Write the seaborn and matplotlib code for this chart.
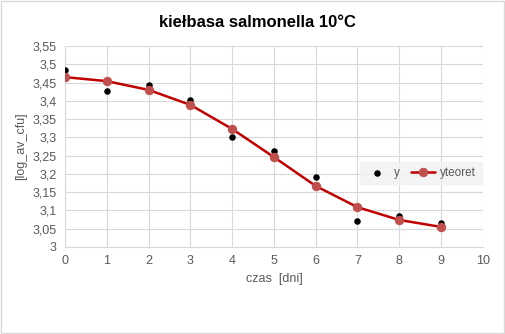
import matplotlib
matplotlib.use("Agg")
import matplotlib.pyplot as plt
import seaborn as sns
import pandas as pd
from matplotlib.ticker import FuncFormatter, MultipleLocator

days = [0, 1, 2, 3, 4, 5, 6, 7, 8, 9]
y_obs = [3.484, 3.427, 3.443, 3.402, 3.301, 3.263, 3.192, 3.071, 3.085, 3.066]
y_teor = [3.465, 3.454, 3.430, 3.389, 3.323, 3.246, 3.167, 3.109, 3.074, 3.055]

df = pd.DataFrame({"czas": days, "y": y_obs, "yteoret": y_teor})

sns.set_theme(style="white")
plt.rcParams['font.family'] = ['Liberation Sans', 'DejaVu Sans']

fig = plt.figure(figsize=(5.05, 3.34), dpi=100)
ax = fig.add_axes([0.129, 0.2605, 0.827, 0.6015])

sns.scatterplot(data=df, x="czas", y="y", ax=ax, color="black", s=22,
                edgecolor="black", linewidth=0, label="y", zorder=3)
sns.lineplot(data=df, x="czas", y="yteoret", ax=ax, color="#C00000", lw=1.8,
             marker="o", markersize=6, markerfacecolor="#C0504D",
             markeredgecolor="#C0504D", label="yteoret", zorder=4)

ax.set_xlim(0, 10)
ax.set_ylim(3, 3.55)
ax.xaxis.set_major_locator(MultipleLocator(1))
ax.yaxis.set_major_locator(MultipleLocator(0.05))
ax.yaxis.set_major_formatter(FuncFormatter(lambda v, p: f"{v:.2f}".rstrip('0').rstrip('.').replace('.', ',')))
ax.grid(True, color="#D9D9D9", lw=0.8)
for s in ["top", "right"]:
    ax.spines[s].set_visible(False)
for s in ["left", "bottom"]:
    ax.spines[s].set_color("#D9D9D9")
    ax.spines[s].set_linewidth(0.8)
ax.tick_params(axis="both", colors="#595959", labelsize=9, length=0, pad=6)

ax.set_xlabel("czas  [dni]", color="#595959", fontsize=9, labelpad=4)
ax.set_ylabel("[log_av_cfu]", color="#595959", fontsize=9, labelpad=4)
fig.suptitle("kiełbasa salmonella 10°C", x=0.51, y=0.955, fontsize=12,
             fontweight="bold", color="black")

leg = ax.legend(loc="upper left", bbox_to_anchor=(0.705, 0.425), ncol=2, frameon=True,
                fontsize=8.5, handlelength=2.0, columnspacing=0.9, handletextpad=0.5,
                borderpad=0.45, borderaxespad=0, fancybox=False)
leg.get_frame().set_facecolor("#F2F2F2")
leg.get_frame().set_edgecolor("#F2F2F2")
for t in leg.get_texts():
    t.set_color("#595959")

fig.patches.append(plt.Rectangle((0.002, 0.003), 0.996, 0.994, transform=fig.transFigure,
                                 fill=False, edgecolor="#D9D9D9", lw=1))
fig.savefig("out.png", dpi=100)
